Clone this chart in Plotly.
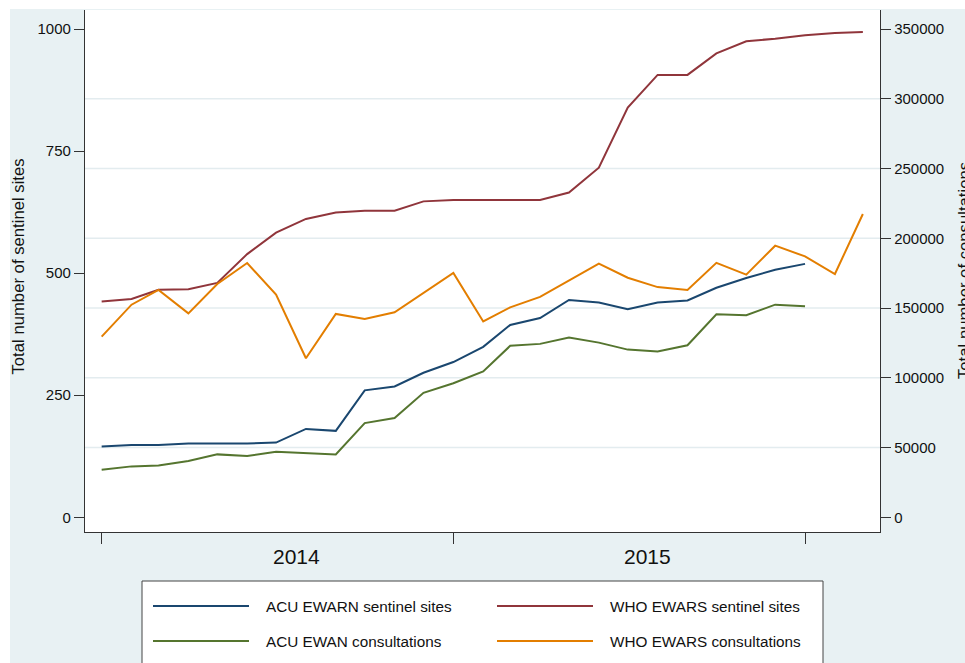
import plotly.graph_objects as go

# ---- data ----
months = ["2014-01-01", "2014-02-01", "2014-03-01", "2014-04-01", "2014-05-01", "2014-06-01",
          "2014-07-01", "2014-08-01", "2014-09-01", "2014-10-01", "2014-11-01", "2014-12-01",
          "2015-01-01", "2015-02-01", "2015-03-01", "2015-04-01", "2015-05-01", "2015-06-01",
          "2015-07-01", "2015-08-01", "2015-09-01", "2015-10-01", "2015-11-01", "2015-12-01",
          "2016-01-01", "2016-02-01", "2016-03-01"]

acu_sites = [145, 148, 148, 151, 151, 151, 153, 181, 177, 260, 268, 296, 318, 349, 394,
             408, 445, 440, 426, 440, 444, 470, 490, 507, 519]
who_sites = [442, 447, 466, 467, 480, 539, 583, 611, 624, 628, 628, 647, 650, 650, 650,
             650, 665, 716, 839, 906, 906, 950, 975, 980, 987, 992, 994]
acu_cons = [34100, 36500, 37200, 40300, 45100, 43900, 47000, 46000, 45100, 67500, 71100,
            89200, 96100, 104600, 122900, 124300, 128800, 125200, 120200, 118800, 123300,
            145500, 144800, 152400, 151200]
who_cons = [129500, 152400, 163000, 146200, 167200, 182300, 159600, 114000, 145800, 142200,
            147000, 160800, 175100, 140400, 150500, 158000, 169600, 181800, 171700, 165000,
            163000, 182400, 173900, 194700, 187000, 174400, 217400]

left_ticks = [0, 250, 500, 750, 1000]
right_ticks = [0, 50000, 100000, 150000, 200000, 250000, 300000, 350000]
grid_vals = [50000, 100000, 150000, 200000, 250000, 300000]
year_ticks = ["2014-01-01", "2015-01-01", "2016-01-01"]
year_labels = ["2014", "2015"]
year_label_pos = ["2014-07-22", "2015-07-22"]

series_names = ["ACU EWARN sentinel sites", "WHO EWARS sentinel sites",
                "ACU EWAN consultations", "WHO EWARS consultations"]
colors = ["#1A476F", "#90353B", "#55752F", "#E37E00"]

FONT = "Liberation Sans, Arial, sans-serif"
W, H = 965, 663
L, R, T, B = 85, 880, 10, 532  # plot area in pixels


def px(xp):
    return (xp - L) / (R - L)


def py(yp):
    return (B - yp) / (B - T)


fig = go.Figure()
fig.add_trace(go.Scatter(x=months[:len(acu_sites)], y=acu_sites, mode="lines",
                         name=series_names[0], line=dict(color=colors[0], width=2), yaxis="y"))
fig.add_trace(go.Scatter(x=months[:len(who_sites)], y=who_sites, mode="lines",
                         name=series_names[1], line=dict(color=colors[1], width=2), yaxis="y"))
fig.add_trace(go.Scatter(x=months[:len(acu_cons)], y=acu_cons, mode="lines",
                         name=series_names[2], line=dict(color=colors[2], width=2), yaxis="y2"))
fig.add_trace(go.Scatter(x=months[:len(who_cons)], y=who_cons, mode="lines",
                         name=series_names[3], line=dict(color=colors[3], width=2), yaxis="y2"))

axis_col = "#333333"
shapes = []
# white outer margin strips
shapes.append(dict(type="rect", xref="paper", yref="paper", x0=px(-5), x1=px(W + 5),
                   y0=py(9), y1=py(-5), fillcolor="white", line=dict(width=0), layer="below"))
shapes.append(dict(type="rect", xref="paper", yref="paper", x0=px(-5), x1=px(10),
                   y0=py(H + 5), y1=py(-5), fillcolor="white", line=dict(width=0), layer="below"))
# gridlines at right-axis ticks
for g in grid_vals:
    shapes.append(dict(type="line", xref="x domain", yref="y2", x0=0, x1=1, y0=g, y1=g,
                       line=dict(color="#E3ECEF", width=1.6), layer="below"))
# legend box
shapes.append(dict(type="rect", xref="paper", yref="paper", x0=px(142), x1=px(823),
                   y0=py(H + 10), y1=py(581), fillcolor="white",
                   line=dict(color="#444444", width=1)))
leg_rows = [606, 641]
leg_cols = [(153, 249, 264), (497, 593, 608)]
annotations = []
for i, name in enumerate(series_names):
    r, c = divmod(i, 2)
    x0, x1, xt = leg_cols[c]
    yy = leg_rows[r]
    shapes.append(dict(type="line", xref="paper", yref="paper", x0=px(x0), x1=px(x1),
                       y0=py(yy), y1=py(yy), line=dict(color=colors[i], width=2)))
    annotations.append(dict(text=name, xref="paper", yref="paper", x=px(xt), y=py(yy),
                            xanchor="left", yanchor="middle", showarrow=False,
                            font=dict(family=FONT, size=15.3, color="#111111")))

for lab, pos in zip(year_labels, year_label_pos):
    annotations.append(dict(text=lab, xref="x", yref="paper", x=pos, y=py(556),
                            xanchor="center", yanchor="middle", showarrow=False,
                            font=dict(family=FONT, size=21, color="#111111")))

annotations.append(dict(text="Total number of sentinel sites", xref="paper", yref="paper",
                        x=px(17.5), y=py(267), textangle=-90, showarrow=False,
                        xanchor="center", yanchor="middle",
                        font=dict(family=FONT, size=16.7, color="#111111")))
annotations.append(dict(text="Total number of consultations", xref="paper", yref="paper",
                        x=px(964), y=py(271), textangle=-90, showarrow=False,
                        xanchor="center", yanchor="middle",
                        font=dict(family=FONT, size=16.7, color="#111111")))

fig.update_layout(
    width=W, height=H,
    margin=dict(l=L, r=W - R, t=T, b=H - B, pad=0),
    paper_bgcolor="#E8F1F3",
    plot_bgcolor="white",
    showlegend=False,
    font=dict(family=FONT, size=15, color="#111111"),
    xaxis=dict(type="date", range=["2013-12-14 17:00", "2016-03-18 19:00"],
               tickvals=year_ticks, ticktext=["", "", ""], ticks="outside", ticklen=11,
               tickcolor=axis_col, tickwidth=1.2, showline=True, linecolor=axis_col,
               linewidth=1.3, showgrid=False, zeroline=False),
    yaxis=dict(range=[-30.1, 1038.9], tickvals=left_ticks, ticks="outside", ticklen=10,
               tickcolor=axis_col, tickwidth=1.2, showline=True, linecolor=axis_col,
               linewidth=1.3, showgrid=False, zeroline=False,
               tickfont=dict(family=FONT, size=15, color="#111111")),
    yaxis2=dict(range=[-10537, 363619], tickvals=right_ticks, tickformat="d",
                overlaying="y", side="right", ticks="outside", ticklen=10,
                tickcolor=axis_col, tickwidth=1.2, showline=True, linecolor=axis_col,
                linewidth=1.3, showgrid=False, zeroline=False,
                tickfont=dict(family=FONT, size=15, color="#111111")),
    shapes=shapes,
    annotations=annotations,
)

fig.write_html("out.html", config={"displayModeBar": False},
               post_script="document.body.style.margin='0';document.body.style.overflow='hidden';")
